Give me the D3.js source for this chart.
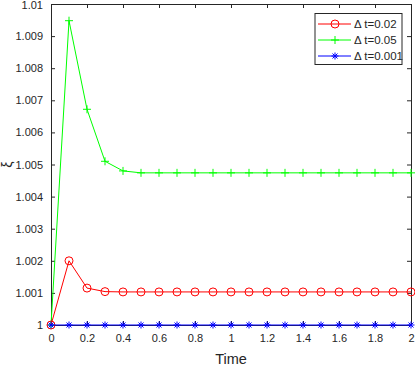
<!DOCTYPE html>
<html>
<head>
<meta charset="utf-8">
<script src="https://cdn.jsdelivr.net/npm/d3@7"></script>
<style>
  body { margin: 0; background: #fff; }
  svg { display: block; font-family: "Liberation Sans", Arial, sans-serif; }
</style>
</head>
<body>
<svg id="chart" width="415" height="366"></svg>
<script>
const times = [0, 0.1, 0.2, 0.3, 0.4, 0.5, 0.6, 0.7, 0.8, 0.9, 1.0,
               1.1, 1.2, 1.3, 1.4, 1.5, 1.6, 1.7, 1.8, 1.9, 2.0];
const dt002 = [1, 1.002, 1.00115, 1.00104, 1.00103, 1.00103, 1.00103, 1.00103, 1.00103, 1.00103, 1.00103,
               1.00103, 1.00103, 1.00103, 1.00103, 1.00103, 1.00103, 1.00103, 1.00103, 1.00103, 1.00103];
const dt005 = [1, 1.00948, 1.00672, 1.0051, 1.0048, 1.00474, 1.00474, 1.00474, 1.00474, 1.00474, 1.00474,
               1.00474, 1.00474, 1.00474, 1.00474, 1.00474, 1.00474, 1.00474, 1.00474, 1.00474, 1.00474];
const dt0001 = [1, 1, 1, 1, 1, 1, 1, 1, 1, 1, 1,
                1, 1, 1, 1, 1, 1, 1, 1, 1, 1];
const xTicks = [0, 0.2, 0.4, 0.6, 0.8, 1, 1.2, 1.4, 1.6, 1.8, 2];
const yTicks = [1, 1.001, 1.002, 1.003, 1.004, 1.005, 1.006, 1.007, 1.008, 1.009, 1.01];
const seriesNames = ["\u0394 t=0.02", "\u0394 t=0.05", "\u0394 t=0.001"];

const plotLeft = 51, plotRight = 411, plotTop = 4, plotBottom = 325;
const axisColor = "#262626";

const svg = d3.select("#chart");
const x = d3.scaleLinear().domain([0, 2]).range([plotLeft, plotRight]);
const y = d3.scaleLinear().domain([1, 1.01]).range([plotBottom, plotTop]);

// axes with inward ticks
const xAxis = svg.append("g")
  .attr("transform", `translate(0,${plotBottom})`)
  .call(d3.axisBottom(x).tickValues(xTicks).tickSizeInner(-4).tickSizeOuter(0).tickPadding(9)
    .tickFormat(d => d3.format("~g")(d)));
const xTop = svg.append("g")
  .attr("transform", `translate(0,${plotTop})`)
  .call(d3.axisTop(x).tickValues(xTicks).tickSizeInner(-4).tickSizeOuter(0).tickFormat(""));
const yAxis = svg.append("g")
  .attr("transform", `translate(${plotLeft},0)`)
  .call(d3.axisLeft(y).tickValues(yTicks).tickSizeInner(-4).tickSizeOuter(0).tickPadding(8)
    .tickFormat(d => d3.format("~g")(+d.toFixed(3))));
const yRight = svg.append("g")
  .attr("transform", `translate(${plotRight},0)`)
  .call(d3.axisRight(y).tickValues(yTicks).tickSizeInner(-4).tickSizeOuter(0).tickFormat(""));

[xAxis, xTop, yAxis, yRight].forEach(g => {
  g.selectAll("path").attr("stroke", axisColor).attr("stroke-width", 1);
  g.selectAll("line").attr("stroke", axisColor);
  g.selectAll("text").attr("fill", axisColor).style("font-size", "11px")
    .style("font-family", "'Liberation Sans', Arial, sans-serif");
});
// keep the top label inside the picture
yAxis.selectAll(".tick text").filter(d => d === 1.01).attr("dy", "0.45em");

svg.append("text")
  .attr("x", (plotLeft + plotRight) / 2)
  .attr("y", 364)
  .attr("text-anchor", "middle")
  .attr("fill", axisColor)
  .style("font-size", "14.5px")
  .text("Time");

svg.append("text")
  .attr("transform", `translate(12,${(plotTop + plotBottom) / 2}) rotate(-90)`)
  .attr("text-anchor", "middle")
  .attr("fill", axisColor)
  .style("font-size", "14px")
  .text("\u03be");

const line = d3.line().x(d => x(d[0])).y(d => y(d[1]));
const series = [
  { name: seriesNames[0], values: dt002, color: "#ff0000", marker: "circle" },
  { name: seriesNames[1], values: dt005, color: "#00ff00", marker: "plus" },
  { name: seriesNames[2], values: dt0001, color: "#0000ff", marker: "star" }
];

function drawMarker(g, type, color) {
  if (type === "circle") {
    g.append("circle").attr("r", 4).attr("fill", "none").attr("stroke", color).attr("stroke-width", 1);
  } else if (type === "plus") {
    g.append("path").attr("d", "M-4,0H4M0,-4V4").attr("stroke", color).attr("stroke-width", 1);
  } else {
    g.append("path").attr("d", "M-3.5,0H3.5M0,-3.5V3.5M-2.5,-2.5L2.5,2.5M-2.5,2.5L2.5,-2.5")
      .attr("stroke", color).attr("stroke-width", 1);
  }
}

// draw green first, then red, then blue on top
[series[1], series[0], series[2]].forEach(s => {
  const pts = times.map((t, i) => [t, s.values[i]]);
  svg.append("path").datum(pts)
    .attr("d", line)
    .attr("fill", "none")
    .attr("stroke", s.color)
    .attr("stroke-width", 1);
  svg.append("g").selectAll("g")
    .data(pts)
    .join("g")
    .attr("transform", d => `translate(${x(d[0])},${y(d[1])})`)
    .each(function() { drawMarker(d3.select(this), s.marker, s.color); });
});

// legend
const legend = svg.append("g");
legend.append("rect")
  .attr("x", 315).attr("y", 13.5).attr("width", 87).attr("height", 51)
  .attr("fill", "#fff").attr("stroke", axisColor).attr("stroke-width", 1);
const legRows = legend.selectAll("g.row")
  .data(series)
  .join("g")
  .attr("class", "row")
  .attr("transform", (d, i) => `translate(0,${24 + i * 16})`);
legRows.append("line")
  .attr("x1", 318).attr("x2", 351)
  .attr("stroke", d => d.color).attr("stroke-width", 1);
legRows.append("g")
  .attr("transform", "translate(335,0)")
  .each(function(d) { drawMarker(d3.select(this), d.marker, d.color); });
legRows.append("text")
  .attr("x", 354).attr("y", 4)
  .attr("fill", axisColor)
  .style("font-size", "11.5px")
  .text(d => d.name);
</script>
</body>
</html>
